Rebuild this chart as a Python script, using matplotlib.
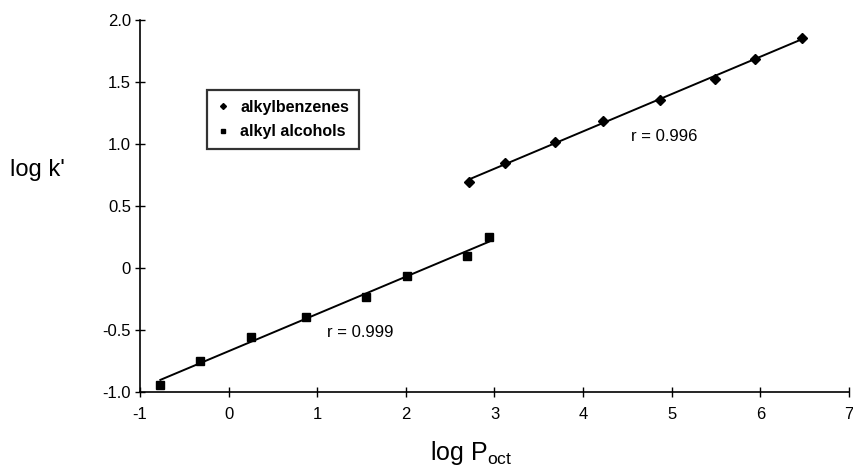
import numpy as np
import matplotlib
matplotlib.use("Agg")
import matplotlib.pyplot as plt

plt.rcParams['font.family'] = ['Liberation Sans', 'DejaVu Sans']
plt.rcParams['axes.unicode_minus'] = False
plt.rcParams['mathtext.fontset'] = 'custom'
plt.rcParams['mathtext.rm'] = 'Liberation Sans'

# Data
alkylbenzenes_x = [2.71, 3.12, 3.68, 4.23, 4.87, 5.49, 5.94, 6.47]
alkylbenzenes_y = [0.70, 0.85, 1.02, 1.19, 1.36, 1.53, 1.69, 1.86]
alcohols_x = [-0.77, -0.32, 0.25, 0.87, 1.55, 2.01, 2.69, 2.94]
alcohols_y = [-0.94, -0.75, -0.55, -0.39, -0.23, -0.065, 0.10, 0.25]

x_ticks = [-1, 0, 1, 2, 3, 4, 5, 6, 7]
x_tick_labels = ["-1", "0", "1", "2", "3", "4", "5", "6", "7"]
y_ticks = [-1.0, -0.5, 0.0, 0.5, 1.0, 1.5, 2.0]
y_tick_labels = ["-1.0", "-0.5", "0", "0.5", "1.0", "1.5", "2.0"]

series_labels = ["alkylbenzenes", "alkyl alcohols"]
r_labels = ["r = 0.996", "r = 0.999"]

fig = plt.figure(figsize=(8.54, 4.73), dpi=100)
ax = fig.add_axes([0.1639, 0.1706, 0.9941 - 0.1639, 0.9567 - 0.1706])

# regression lines
for xs, ys in [(alkylbenzenes_x, alkylbenzenes_y), (alcohols_x, alcohols_y)]:
    xs = np.array(xs); ys = np.array(ys)
    m, b = np.polyfit(xs, ys, 1)
    xx = np.array([xs.min(), xs.max()])
    ax.plot(xx, m * xx + b, color='black', lw=1.4, zorder=2)

hb, = ax.plot(alkylbenzenes_x, alkylbenzenes_y, linestyle='none', marker='D',
              ms=5, color='black', clip_on=False, zorder=3, label=series_labels[0])
ha, = ax.plot(alcohols_x, alcohols_y, linestyle='none', marker='s',
              ms=6, color='black', clip_on=False, zorder=3, label=series_labels[1])

ax.set_xlim(-1, 7)
ax.set_ylim(-1, 2)
ax.set_xticks(x_ticks)
ax.set_xticklabels(x_tick_labels)
ax.set_yticks(y_ticks)
ax.set_yticklabels(y_tick_labels)

for s in ['top', 'right']:
    ax.spines[s].set_visible(False)
for s in ['left', 'bottom']:
    ax.spines[s].set_linewidth(1.2)

ax.tick_params(axis='both', direction='inout', length=7, width=1.0,
               labelsize=12)
ax.tick_params(axis='x', pad=7)
ax.tick_params(axis='y', pad=3)

ax.text(4.54, 1.06, r_labels[0], fontsize=12, va='center', ha='left')
ax.text(1.11, -0.52, r_labels[1], fontsize=12, va='center', ha='left')

leg = ax.legend(handles=[hb, ha], loc='upper left',
                bbox_to_anchor=(0.094, 0.813), fontsize=11.5,
                frameon=True, fancybox=False, handlelength=0.8,
                handletextpad=0.7, borderpad=0.6, labelspacing=0.6,
                borderaxespad=0, markerscale=0.6)
leg.get_frame().set_edgecolor('black')
leg.get_frame().set_linewidth(1.6)
for t in leg.get_texts():
    t.set_fontweight('bold')

fig.text(10 / 854, 1 - 170 / 473, "log k'", fontsize=17, ha='left', va='center')
fig.text(430 / 854, 1 - 460 / 473, r"log P$_{\mathregular{oct}}$", fontsize=18,
         ha='left', va='baseline')

fig.savefig("out.png", dpi=100)
